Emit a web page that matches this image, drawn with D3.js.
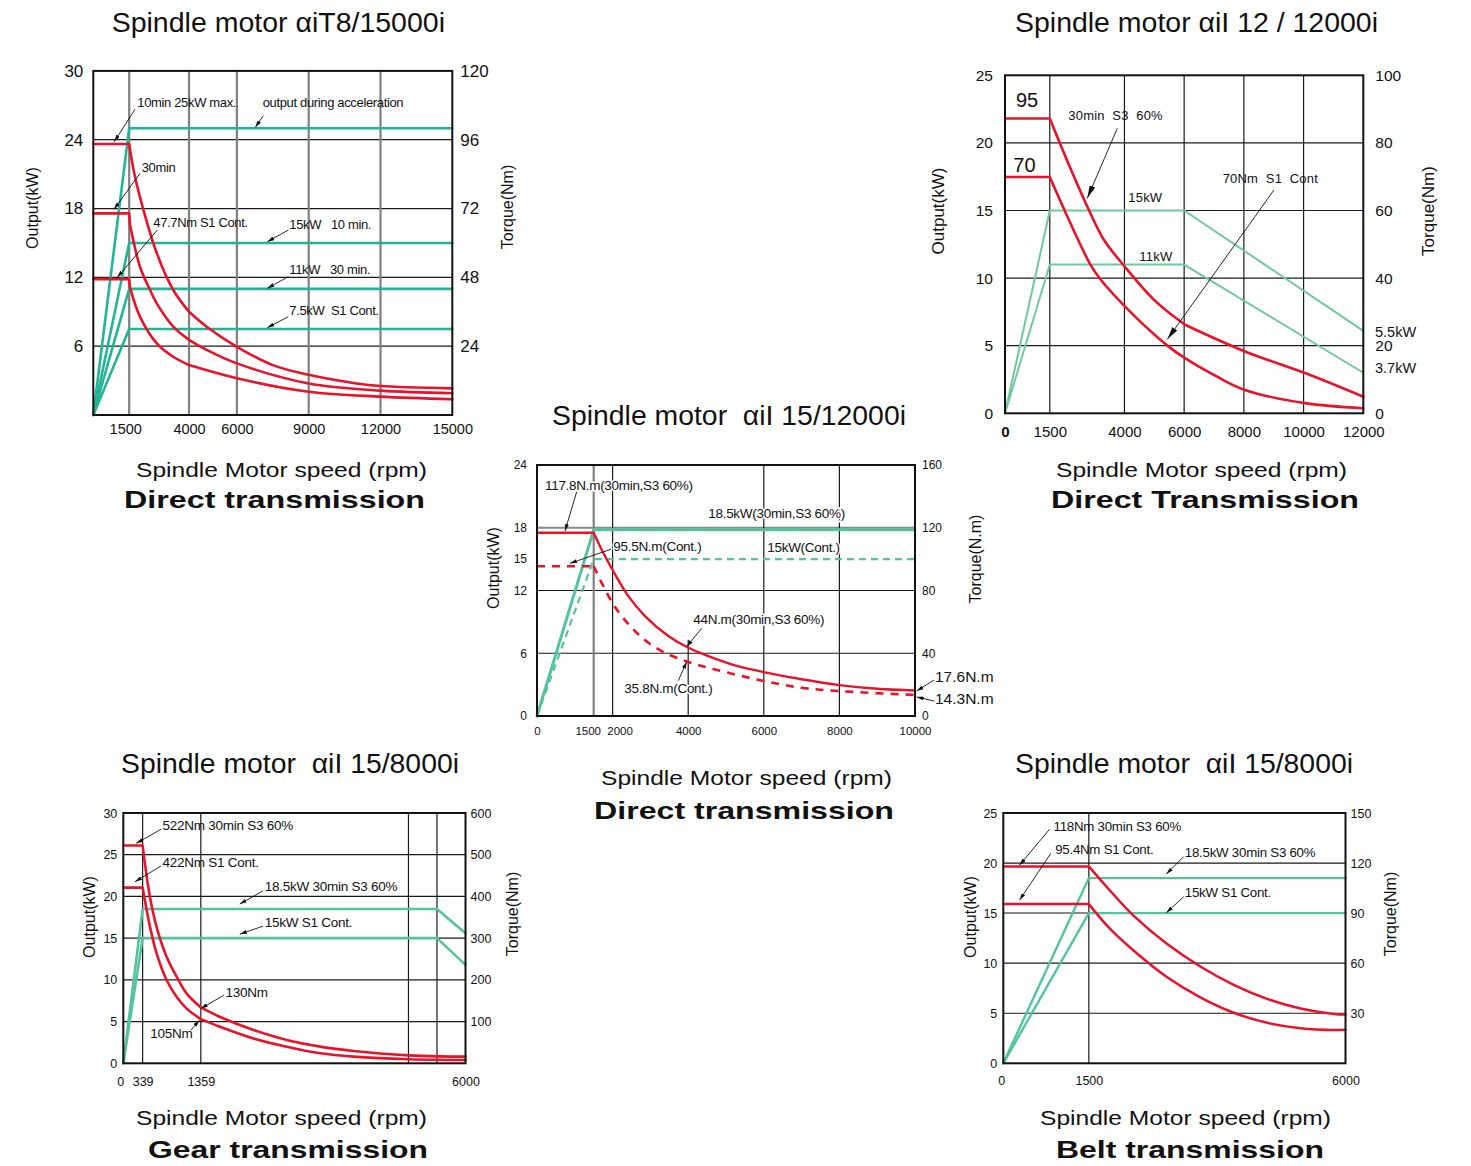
<!DOCTYPE html>
<html>
<head>
<meta charset="utf-8">
<script src="https://d3js.org/d3.v7.min.js"></script>
<style>
  body { margin: 0; background: #fff; }
  text { font-family: "Liberation Sans", Arial, sans-serif; fill: #111; }
</style>
</head>
<body>
<svg id="chart" width="1471" height="1166"></svg>
<script>
// ---------- data: [speed rpm, value] ----------
// panel 1  aiT8/15000i  (red = torque Nm, green = output kW)
const p1XTicks = [1500, 4000, 6000, 9000, 12000, 15000];
const p1KwTicks = [6, 12, 18, 24, 30];
const p1NmTicks = [24, 48, 72, 96, 120];
const p1HGrid = [6, 12, 18, 24];
const p1VGrid = [1500, 4000, 6000, 9000, 12000];
const p1TorqueMax = [[0,94.5],[1500,94.5],[1670,86],[1950,76],[2650,56.5],[3340,43.6],[4000,36],[4735,30.8],[6000,23.8],[7500,17.4],[9000,14],[11000,11],[12000,10.1],[15000,9.3]];
const p1Torque30 = [[0,70.3],[1500,70.3],[1530,66.5],[1950,51.7],[2370,43.6],[2650,38.9],[3340,30.8],[4000,26.2],[4735,22.7],[6000,18.0],[9000,11.0],[12000,8.5],[15000,7.6]];
const p1TorqueS1 = [[0,47.4],[1500,47.4],[1530,44.6],[1950,34.3],[2650,25.0],[3340,20.3],[4000,17.4],[6000,12.8],[9000,8.1],[12000,6.4],[15000,5.5]];
const p1KwAccel = [[0,0],[1500,25],[15000,25]];
const p1Kw10 = [[0,0],[1500,15],[15000,15]];
const p1Kw30 = [[0,0],[1500,11],[15000,11]];
const p1KwS1 = [[0,0],[1500,7.5],[15000,7.5]];

// panel 2  aiI 12/12000i
const p2XTicks = [0, 1500, 4000, 6000, 8000, 10000, 12000];
const p2KwTicks = [0, 5, 10, 15, 20, 25];
const p2NmTicks = [0, 20, 40, 60, 80, 100];
const p2HGrid = [5, 10, 15, 20];
const p2VGrid = [1500, 4000, 6000, 8000, 10000];
const p2TorqueS3 = [[0,87.2],[1500,87.2],[2065,75.1],[2791,60.5],[3300,51.5],[4000,43.5],[5000,33.5],[6028,26.2],[8037,18.3],[10047,11.9],[12000,4.9]];
const p2TorqueS1 = [[0,69.9],[1500,69.9],[2009,59.8],[2847,44.2],[3181,39.8],[4298,29.1],[5470,19.8],[6028,16.3],[7088,10.9],[8037,6.9],[10047,3.0],[12000,1.5]];
const p2KwS3 = [[0,0],[1500,15],[6000,15],[12000,6.1]];
const p2KwS1 = [[0,0],[1500,11],[6000,11],[12000,3.0]];

// panel 3  aiI 15/12000i direct
const p3XTicks = [0, 1500, 2000, 4000, 6000, 8000, 10000];
const p3KwTicks = [0, 6, 12, 15, 18, 24];
const p3NmTicks = [0, 40, 80, 120, 160];
const p3HGrid = [6, 12, 18];
const p3VGrid = [1500, 2000, 4000, 6000, 8000];
const p3TorqueS3 = [[0,116.8],[1500,116.8],[1711,106],[1993,93.4],[2416,76.4],[2857,63.7],[3474,51.0],[4004,43.5],[4533,38.2],[5238,32.3],[6000,28.0],[7000,23.4],[8000,19.7],[9000,17.4],[10000,16.3]];
const p3TorqueS1 = [[0,95.5],[1500,95.5],[1667,87],[1993,72.2],[2240,63.7],[2593,54.1],[2945,46.7],[3386,40.3],[4004,34.4],[4709,29.7],[6000,22.3],[7000,18.0],[8000,15.9],[10000,13.4]];
const p3KwS3 = [[0,0],[1500,17.8],[10000,17.8]];
const p3KwS1 = [[0,0],[1500,15],[10000,15]];

// panel 4  aiI 15/8000i gear
const p4XTicks = [0, 339, 1359, 6000];
const p4KwTicks = [0, 5, 10, 15, 20, 25, 30];
const p4NmTicks = [100, 200, 300, 400, 500, 600];
const p4HGrid = [5, 10, 15, 20, 25];
const p4VGrid = [339, 1359, 5000, 5500];
const p4TorqueS3 = [[0,522],[339,522],[380,478],[468,398],[585,326],[761,255],[937,207],[1112,167],[1359,134],[1698,111],[2283,80],[2868,56],[3454,40],[4039,29.5],[5005,19],[5532,16.5],[6000,16]];
const p4TorqueS1 = [[0,421],[339,421],[380,390],[468,327],[585,263],[761,199],[937,159],[1112,131],[1359,106],[1698,87.6],[2283,59.7],[2868,39.8],[3454,23.9],[4039,15.9],[5005,9.6],[6000,8]];
const p4KwS3 = [[0,0],[339,18.5],[5500,18.5],[6000,15.6]];
const p4KwS1 = [[0,0],[339,15],[5500,15],[6000,11.8]];

// panel 5  aiI 15/8000i belt
const p5XTicks = [0, 1500, 6000];
const p5KwTicks = [0, 5, 10, 15, 20, 25];
const p5NmTicks = [30, 60, 90, 120, 150];
const p5HGrid = [5, 10, 15, 20];
const p5VGrid = [1500];
const p5TorqueS3 = [[0,118],[1500,118],[1873,103.4],[2283,88.5],[2868,71.6],[3454,58.0],[4039,47.0],[4624,38.6],[5210,32.8],[5795,29.6],[6000,29.2]];
const p5TorqueS1 = [[0,95.4],[1500,95.4],[1873,80.5],[2283,67.6],[2868,51.7],[3454,39.5],[4039,30.3],[4624,24.3],[5210,21.0],[5795,19.9],[6000,20.1]];
const p5KwS3 = [[0,0],[1500,18.5],[6000,18.5]];
const p5KwS1 = [[0,0],[1500,15],[6000,15]];

// ---------- drawing ----------
const RED = "#e8122b", TEAL = "#22b496", MINT = "#55c3a1", LIGHT = "#70c99c";
const svg = d3.select("#chart");
const defs = svg.append("defs");

function marker(id, w, h) {
  defs.append("marker").attr("id", id)
    .attr("viewBox", "0 0 10 10").attr("refX", 10).attr("refY", 5)
    .attr("markerWidth", w).attr("markerHeight", h)
    .attr("markerUnits", "userSpaceOnUse").attr("orient", "auto")
    .attr("preserveAspectRatio", "none")
    .append("path").attr("d", "M0,0 L10,5 L0,10 z").attr("fill", "#111");
}
marker("arr", 7, 4);
marker("arrBig", 13, 6);

function drawPanel(p) {
  const g = svg.append("g");
  const x = d3.scaleLinear().domain([0, p.xMax]).range([p.left, p.right]);
  const yKw = d3.scaleLinear().domain([0, p.kwMax]).range([p.bottom, p.top]);
  const yNm = d3.scaleLinear().domain([0, p.nmMax]).range([p.bottom, p.top]);
  const gray = p.grayGrid || [];
  const hGray = p.hGray || [];
  const vTop = p.vTop || {};

  g.selectAll("line.h").data(p.hGrid).join("line").attr("class", "h")
    .attr("x1", p.left).attr("x2", p.right)
    .attr("y1", d => yKw(d)).attr("y2", d => yKw(d))
    .attr("stroke", d => hGray.includes(d) ? "#888" : "#1a1a1a")
    .attr("stroke-width", d => hGray.includes(d) ? 2 : 1.2);
  g.selectAll("line.v").data(p.vGrid).join("line").attr("class", "v")
    .attr("x1", d => x(d)).attr("x2", d => x(d))
    .attr("y1", d => yKw(vTop[d] !== undefined ? vTop[d] : p.kwMax)).attr("y2", p.bottom)
    .attr("stroke", d => gray.includes(d) ? "#808080" : "#1a1a1a")
    .attr("stroke-width", d => gray.includes(d) ? 2.2 : 1.2);

  p.series.forEach(s => {
    const y = s.axis === "nm" ? yNm : yKw;
    const line = d3.line().x(d => x(d[0])).y(d => y(d[1]))
      .curve(s.smooth ? d3.curveCatmullRom.alpha(0.5) : d3.curveLinear);
    const cuts = [0, ...(s.breaks || []), s.data.length - 1];
    let path = "";
    for (let i = 0; i < cuts.length - 1; i++) path += line(s.data.slice(cuts[i], cuts[i + 1] + 1));
    g.append("path").attr("d", path)
      .attr("fill", "none").attr("stroke", s.color).attr("stroke-width", s.width)
      .attr("stroke-dasharray", s.dash || null)
      .attr("stroke-linejoin", "round").attr("stroke-linecap", s.dash ? "butt" : "round");
  });

  g.append("rect").attr("x", p.left).attr("y", p.top)
    .attr("width", p.right - p.left).attr("height", p.bottom - p.top)
    .attr("fill", "none").attr("stroke", "#111").attr("stroke-width", 2);

  const styleAxis = (ax, fs) => {
    ax.select(".domain").remove();
    ax.attr("font-family", "'Liberation Sans', Arial, sans-serif").attr("font-size", fs);
    ax.selectAll("text").attr("fill", "#111");
  };
  const axL = g.append("g").attr("transform", `translate(${p.left},0)`)
    .call(d3.axisLeft(yKw).tickValues(p.kwTicks).tickSize(0).tickPadding(p.padL));
  styleAxis(axL, p.tickFs);
  const axR = g.append("g").attr("transform", `translate(${p.right},0)`)
    .call(d3.axisRight(yNm).tickValues(p.nmTicks).tickSize(0).tickPadding(p.padR));
  styleAxis(axR, p.tickFs);
  const axB = g.append("g").attr("transform", `translate(0,${p.bottom})`)
    .call(d3.axisBottom(x).tickValues(p.xTicks).tickSize(0).tickPadding(p.padX).tickFormat(d3.format("d")));
  styleAxis(axB, p.xTickFs);
  if (p.boldZero) axB.selectAll("text").filter(d => d === 0).attr("font-weight", "bold");
  if (p.xShift) axB.selectAll("text").attr("dx", d => p.xShift[d] || 0);

  // axis titles
  [["Output(kW)", p.yTitleL], [p.nmTitle, p.yTitleR]].forEach(([t, pos]) => {
    g.append("text").attr("transform", `translate(${pos[0]},${pos[1]}) rotate(-90)`)
      .attr("text-anchor", "middle").attr("dominant-baseline", "central")
      .attr("font-size", p.yTitleFs).text(t);
  });

  // annotations
  p.notes.forEach(n => {
    if (n.from) {
      g.append("line")
        .attr("x1", x(n.from[0])).attr("y1", yKw(n.from[1]))
        .attr("x2", x(n.to[0])).attr("y2", yKw(n.to[1]))
        .attr("stroke", "#111").attr("stroke-width", 0.9)
        .attr("marker-end", `url(#${p.arrow})`);
    }
    const t = g.append("text").attr("x", x(n.at[0])).attr("y", yKw(n.at[1]))
      .attr("font-size", n.fs || p.noteFs).attr("letter-spacing", n.fs ? 0 : (p.noteLs || 0))
      .style("white-space", "pre").text(n.t);
    if (p.halo) t.attr("stroke", "#fff").attr("stroke-width", 3).attr("paint-order", "stroke");
  });

  // titles
  const fit = (txt, x0, x1, base, fs, family, weight) => {
    g.append("text").attr("x", x0).attr("y", base)
      .attr("font-size", fs).attr("font-family", family).attr("font-weight", weight)
      .attr("textLength", x1 - x0).attr("lengthAdjust", "spacingAndGlyphs")
      .style("white-space", "pre").text(txt);
  };
  fit(p.title, p.titlePos[0], p.titlePos[1], p.titlePos[2], 27, "'Liberation Sans', Arial", "normal");
  fit("Spindle Motor speed (rpm)", p.speedPos[0], p.speedPos[1], p.speedPos[2], 20, "'DejaVu Sans', sans-serif", "normal");
  fit(p.kind, p.kindPos[0], p.kindPos[1], p.kindPos[2], 24, "'DejaVu Sans', sans-serif", "bold");
}

const panels = [
  {
    left: 93.3, right: 452.3, top: 70.9, bottom: 415,
    xMax: 15000, kwMax: 30, nmMax: 120,
    xTicks: p1XTicks, kwTicks: p1KwTicks, nmTicks: p1NmTicks,
    hGrid: p1HGrid, vGrid: p1VGrid, grayGrid: p1VGrid,
    tickFs: 17, xTickFs: 14.5, padL: 10, padR: 8, padX: 9, xShift: { 1500: -4 },
    yTitleL: [32, 208], yTitleR: [507, 207], yTitleFs: 16, nmTitle: "Torque(Nm)",
    noteFs: 13, noteLs: -0.35, arrow: "arr",
    series: [
      { data: p1KwAccel, axis: "kw", color: TEAL, width: 2.6 },
      { data: p1Kw10, axis: "kw", color: TEAL, width: 2.6 },
      { data: p1Kw30, axis: "kw", color: TEAL, width: 2.6 },
      { data: p1KwS1, axis: "kw", color: TEAL, width: 2.6 },
      { data: p1TorqueMax, axis: "nm", color: RED, width: 2.6, smooth: true, breaks: [1, 6] },
      { data: p1Torque30, axis: "nm", color: RED, width: 2.6, smooth: true, breaks: [1, 2, 7] },
      { data: p1TorqueS1, axis: "nm", color: RED, width: 2.6, smooth: true, breaks: [1, 2, 6] }
    ],
    notes: [
      { t: "10min 25kW max.", at: [1839, 26.83], from: [1743, 26.65], to: [878, 23.83] },
      { t: "output during acceleration", at: [7079, 26.83], from: [7104, 26.1], to: [6770, 25.08] },
      { t: "30min", at: [2022, 21.21], from: [1952, 21.07], to: [865, 17.93] },
      { t: "47.7Nm S1 Cont.", at: [2507, 16.42], from: [2675, 16.13], to: [1003, 12.0] },
      { t: "15kW   10 min.", at: [8190, 16.22], from: [8149, 16.13], to: [7271, 15.11] },
      { t: "11kW   30 min.", at: [8190, 12.27], from: [8149, 12.06], to: [7271, 11.05] },
      { t: "7.5kW  S1 Cont.", at: [8190, 8.72], from: [8149, 8.57], to: [7271, 7.61] }
    ],
    title: "Spindle motor αiT8/15000i", titlePos: [111.7, 445, 32],
    speedPos: [136, 427, 477], kind: "Direct transmission", kindPos: [124, 425, 508]
  },
  {
    left: 1005, right: 1363.3, top: 75.3, bottom: 413.3,
    xMax: 12000, kwMax: 25, nmMax: 100,
    xTicks: p2XTicks, kwTicks: p2KwTicks, nmTicks: p2NmTicks,
    hGrid: p2HGrid, vGrid: p2VGrid, boldZero: true,
    tickFs: 15.5, xTickFs: 15, padL: 12, padR: 12, padX: 13,
    yTitleL: [938, 211], yTitleR: [1428, 211], yTitleFs: 17, nmTitle: "Torque(Nm)",
    noteFs: 13, noteLs: 0.2, arrow: "arrBig",
    series: [
      { data: p2KwS3, axis: "kw", color: LIGHT, width: 2 },
      { data: p2KwS1, axis: "kw", color: LIGHT, width: 2 },
      { data: p2TorqueS3, axis: "nm", color: RED, width: 2.6, smooth: true, breaks: [1, 7] },
      { data: p2TorqueS1, axis: "nm", color: RED, width: 2.6, smooth: true, breaks: [1] }
    ],
    notes: [
      { t: "95", at: [368, 22.63], fs: 20 },
      { t: "70", at: [279, 17.87], fs: 20 },
      { t: "30min  S3  60%", at: [2120, 21.69], from: [3761, 21.08], to: [2756, 15.90] },
      { t: "15kW", at: [4129, 15.65] },
      { t: "11kW", at: [4498, 11.26] },
      { t: "70Nm  S1  Cont", at: [7290, 17.01], from: [9009, 16.52], to: [5436, 5.47] },
      { t: "5.5kW", at: [12391, 5.64], fs: 14.5 },
      { t: "3.7kW", at: [12391, 2.98], fs: 14.5 }
    ],
    title: "Spindle motor αiI 12 / 12000i", titlePos: [1015, 1378, 32],
    speedPos: [1056, 1347, 477], kind: "Direct Transmission", kindPos: [1051, 1359, 508]
  },
  {
    left: 537, right: 915, top: 465, bottom: 716,
    xMax: 10000, kwMax: 24, nmMax: 160,
    xTicks: p3XTicks, kwTicks: p3KwTicks, nmTicks: p3NmTicks,
    hGrid: p3HGrid, vGrid: p3VGrid, grayGrid: [1500], hGray: [18], vTop: { 4000: 7.3 },
    tickFs: 12, xTickFs: 11.5, padL: 10, padR: 7, padX: 11, xShift: { 1500: -6, 2000: 7 },
    yTitleL: [493, 568], yTitleR: [975, 559], yTitleFs: 16, nmTitle: "Torque(N.m)",
    noteFs: 13.5, noteLs: -0.3, arrow: "arr", halo: true,
    series: [
      { data: p3KwS3, axis: "kw", color: MINT, width: 3 },
      { data: p3KwS1, axis: "kw", color: MINT, width: 2.2, dash: "7,5" },
      { data: p3TorqueS3, axis: "nm", color: RED, width: 2.4, smooth: true, breaks: [1] },
      { data: p3TorqueS1, axis: "nm", color: RED, width: 2.6, smooth: true, breaks: [1], dash: "8,7" }
    ],
    notes: [
      { t: "117.8N.m(30min,S3 60%)", at: [212, 21.6], from: [1050, 21.44], to: [741, 17.69] },
      { t: "18.5kW(30min,S3 60%)", at: [4532, 18.9] },
      { t: "95.5N.m(Cont.)", at: [2019, 15.73], from: [1958, 15.94], to: [873, 14.6] },
      { t: "15kW(Cont.)", at: [6093, 15.65] },
      { t: "44N.m(30min,S3 60%)", at: [4135, 8.8], from: [4357, 8.38], to: [3960, 6.63] },
      { t: "35.8N.m(Cont.)", at: [2310, 2.17], from: [3738, 3.37], to: [3960, 5.19] },
      { t: "17.6N.m", at: [10529, 3.22], from: [10503, 3.44], to: [10045, 2.39], fs: 15.5 },
      { t: "14.3N.m", at: [10529, 1.12], from: [10503, 1.43], to: [10045, 1.82], fs: 15.5 }
    ],
    title: "Spindle motor  αiI 15/12000i", titlePos: [552, 906, 425],
    speedPos: [601, 892, 785], kind: "Direct transmission", kindPos: [594, 894, 819]
  },
  {
    left: 123.3, right: 465.5, top: 813, bottom: 1063.3,
    xMax: 6000, kwMax: 30, nmMax: 600,
    xTicks: p4XTicks, kwTicks: p4KwTicks, nmTicks: p4NmTicks,
    hGrid: p4HGrid, vGrid: p4VGrid,
    tickFs: 12.5, xTickFs: 12.5, padL: 6, padR: 5, padX: 14, xShift: { 0: -3 },
    yTitleL: [89, 917], yTitleR: [512, 914], yTitleFs: 16, nmTitle: "Torque(Nm)",
    noteFs: 13.5, noteLs: -0.25, arrow: "arr",
    series: [
      { data: p4KwS3, axis: "kw", color: MINT, width: 2.6 },
      { data: p4KwS1, axis: "kw", color: MINT, width: 2.6 },
      { data: p4TorqueS3, axis: "nm", color: RED, width: 2.6, smooth: true, breaks: [1, 8] },
      { data: p4TorqueS1, axis: "nm", color: RED, width: 2.6, smooth: true, breaks: [1, 8] }
    ],
    notes: [
      { t: "522Nm 30min S3 60%", at: [688, 27.92], from: [659, 28.04], to: [227, 26.36] },
      { t: "422Nm S1 Cont.", at: [688, 23.48], from: [659, 23.64], to: [205, 21.76] },
      { t: "18.5kW 30min S3 60%", at: [2479, 20.68], from: [2451, 20.68], to: [2042, 19.08] },
      { t: "15kW S1 Cont.", at: [2479, 16.36], from: [2451, 16.44], to: [2042, 15.48] },
      { t: "130Nm", at: [1791, 7.96], from: [1764, 8.16], to: [1359, 6.56] },
      { t: "105Nm", at: [473, 3.08], from: [1184, 3.96], to: [1335, 5.16] }
    ],
    title: "Spindle motor  αiI 15/8000i", titlePos: [121, 459, 773],
    speedPos: [136, 427, 1125], kind: "Gear transmission", kindPos: [148, 428, 1158]
  },
  {
    left: 1003.3, right: 1345.5, top: 813, bottom: 1063.3,
    xMax: 6000, kwMax: 25, nmMax: 150,
    xTicks: p5XTicks, kwTicks: p5KwTicks, nmTicks: p5NmTicks,
    hGrid: p5HGrid, vGrid: p5VGrid, hGray: [15],
    tickFs: 12.5, xTickFs: 12.5, padL: 6, padR: 5, padX: 13, xShift: { 0: -2 },
    yTitleL: [970, 917], yTitleR: [1390, 914], yTitleFs: 16, nmTitle: "Torque(Nm)",
    noteFs: 13.3, noteLs: -0.25, arrow: "arr",
    series: [
      { data: p5KwS3, axis: "kw", color: MINT, width: 2.4 },
      { data: p5KwS1, axis: "kw", color: MINT, width: 2.4 },
      { data: p5TorqueS3, axis: "nm", color: RED, width: 2.5, smooth: true, breaks: [1] },
      { data: p5TorqueS1, axis: "nm", color: RED, width: 2.5, smooth: true, breaks: [1] }
    ],
    notes: [
      { t: "118Nm 30min S3 60%", at: [880, 23.23], from: [810, 23.37], to: [285, 19.8] },
      { t: "95.4Nm S1 Cont.", at: [909, 20.9], from: [834, 20.97], to: [285, 16.3] },
      { t: "18.5kW 30min S3 60%", at: [3183, 20.63], from: [3161, 20.63], to: [2858, 18.9] },
      { t: "15kW S1 Cont.", at: [3183, 16.57], from: [3161, 16.63], to: [2858, 15.03] }
    ],
    title: "Spindle motor  αiI 15/8000i", titlePos: [1015, 1353, 773],
    speedPos: [1040, 1331, 1125], kind: "Belt transmission", kindPos: [1056, 1324, 1158]
  }
];

panels.forEach(drawPanel);
</script>
</body>
</html>
